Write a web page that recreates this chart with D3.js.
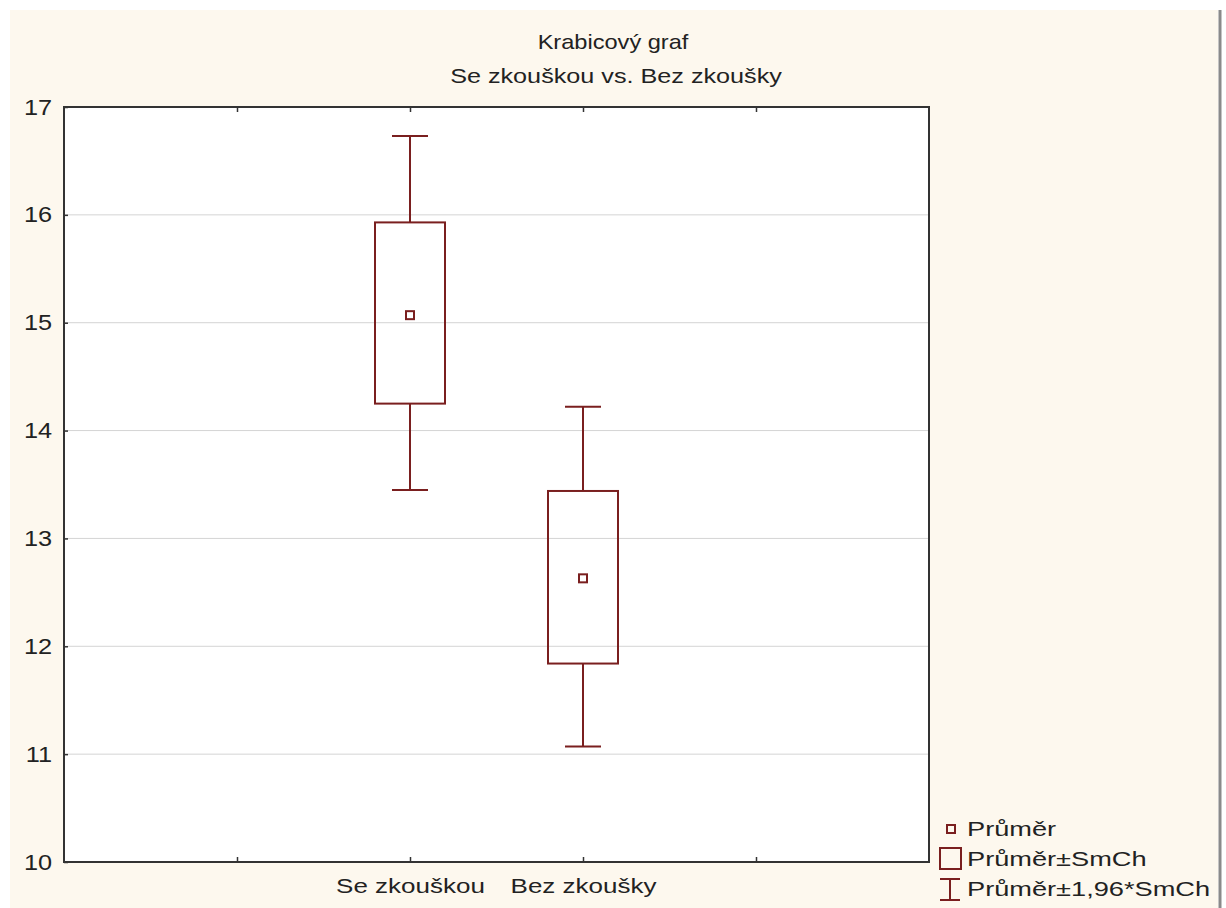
<!doctype html>
<html lang="cs">
<head>
  <meta charset="utf-8">
  <script src="https://d3js.org/d3.v7.min.js"></script>
  <style>
    body { margin: 0; background: #fff; }
    text { font-family: Arial, "Liberation Sans", sans-serif; }
  </style>
</head>
<body>
<script>
  // data
  var categories = ["", "Se zkouškou", "Bez zkoušky", ""];
  var means      = [null, 15.07, 12.63, null];
  var seLow      = [null, 14.25, 11.84, null];
  var seHigh     = [null, 15.93, 13.44, null];
  var ciLow      = [null, 13.45, 11.07, null];
  var ciHigh     = [null, 16.73, 14.22, null];
  var yTicks     = [10, 11, 12, 13, 14, 15, 16, 17];
  var legendLabels = ["Průměr", "Průměr±SmCh", "Průměr±1,96*SmCh"];

  var W = 1226, H = 908;
  var pLeft = 64, pRight = 929, pTop = 107, pBottom = 862;
  var col = "#7a1f1f";
  var sx = 1.3;   // the reference text is drawn wide

  var svg = d3.select("body").append("svg")
      .attr("width", W)
      .attr("height", H);

  // cream figure background
  svg.append("rect")
      .attr("x", 10).attr("y", 10)
      .attr("width", 1208).attr("height", H - 10)
      .attr("fill", "#fdf8ee");
  svg.append("line")
      .attr("x1", 1220).attr("x2", 1220)
      .attr("y1", 10).attr("y2", H)
      .attr("stroke", "#8a8a8a").attr("stroke-width", 3);

  function wideText(x, y, str, anchor, k) {
    return svg.append("g")
        .attr("transform", "translate(" + x + "," + y + ") scale(" + (k || sx) + ",1)")
      .append("text")
        .attr("text-anchor", anchor || "start")
        .style("font-size", "20px").attr("fill", "#222")
        .text(str);
  }

  var x = d3.scaleLinear().domain([0, categories.length + 1]).range([pLeft, pRight]);
  var y = d3.scaleLinear().domain([10, 17]).range([pBottom, pTop]);

  // plot area
  svg.append("rect")
      .attr("x", pLeft).attr("y", pTop)
      .attr("width", pRight - pLeft).attr("height", pBottom - pTop)
      .attr("fill", "#fff");

  // grid
  svg.selectAll(".grid")
      .data(yTicks.slice(1, -1))
    .enter().append("line")
      .attr("x1", pLeft).attr("x2", pRight)
      .attr("y1", function(d) { return y(d); })
      .attr("y2", function(d) { return y(d); })
      .attr("stroke", "#d4d4d4").attr("stroke-width", 1);

  // axes
  var yAxis = svg.append("g")
      .attr("transform", "translate(" + pLeft + ",0)")
      .call(d3.axisLeft(y).tickValues(yTicks).tickFormat(d3.format("d"))
        .tickSize(-4).tickPadding(12));
  var idx = d3.range(1, categories.length + 1);
  var xAxis = svg.append("g")
      .attr("transform", "translate(0," + pBottom + ")")
      .call(d3.axisBottom(x).tickValues(idx)
        .tickFormat(function(d) { return categories[d - 1]; })
        .tickSize(-5).tickPadding(17));
  var xTop = svg.append("g")
      .attr("transform", "translate(0," + pTop + ")")
      .call(d3.axisTop(x).tickValues(idx).tickFormat("").tickSize(-5));

  [yAxis, xAxis, xTop].forEach(function(g) {
    g.select(".domain").remove();
    g.selectAll(".tick line").attr("stroke", "#333").attr("stroke-width", 1.5);
    g.selectAll("text").attr("fill", "#222").style("font-size", "20px")
        .attr("transform", "scale(" + sx + ",1)");
  });
  yAxis.selectAll("text")
      .style("font-size", "22px")
      .attr("transform", "scale(1.15,1)")
      .attr("x", -12 / 1.15);

  // plot frame
  svg.append("rect")
      .attr("x", pLeft).attr("y", pTop)
      .attr("width", pRight - pLeft).attr("height", pBottom - pTop)
      .attr("fill", "none").attr("stroke", "#333").attr("stroke-width", 2);

  // boxes
  var groups = idx.filter(function(i) { return means[i - 1] != null; });
  var boxW = 70, capW = 36, mSize = 8;
  var g = svg.selectAll(".box")
      .data(groups)
    .enter().append("g")
      .attr("fill", "none")
      .attr("stroke", col)
      .attr("stroke-width", 2);

  g.append("line")
      .attr("x1", function(i) { return x(i); })
      .attr("x2", function(i) { return x(i); })
      .attr("y1", function(i) { return y(ciHigh[i - 1]); })
      .attr("y2", function(i) { return y(seHigh[i - 1]); });
  g.append("line")
      .attr("x1", function(i) { return x(i); })
      .attr("x2", function(i) { return x(i); })
      .attr("y1", function(i) { return y(seLow[i - 1]); })
      .attr("y2", function(i) { return y(ciLow[i - 1]); });
  g.append("line")
      .attr("x1", function(i) { return x(i) - capW / 2; })
      .attr("x2", function(i) { return x(i) + capW / 2; })
      .attr("y1", function(i) { return y(ciHigh[i - 1]); })
      .attr("y2", function(i) { return y(ciHigh[i - 1]); });
  g.append("line")
      .attr("x1", function(i) { return x(i) - capW / 2; })
      .attr("x2", function(i) { return x(i) + capW / 2; })
      .attr("y1", function(i) { return y(ciLow[i - 1]); })
      .attr("y2", function(i) { return y(ciLow[i - 1]); });
  g.append("rect")
      .attr("x", function(i) { return x(i) - boxW / 2; })
      .attr("y", function(i) { return y(seHigh[i - 1]); })
      .attr("width", boxW)
      .attr("height", function(i) { return y(seLow[i - 1]) - y(seHigh[i - 1]); });
  g.append("rect")
      .attr("x", function(i) { return x(i) - mSize / 2; })
      .attr("y", function(i) { return y(means[i - 1]) - mSize / 2; })
      .attr("width", mSize).attr("height", mSize);

  // titles
  wideText(613, 49, "Krabicový graf", "middle", 1.18);
  wideText(616, 83, "Se zkouškou vs. Bez zkoušky", "middle", 1.26);

  // legend
  var lg = svg.append("g").attr("stroke", col).attr("stroke-width", 2).attr("fill", "none");
  lg.append("rect").attr("x", 947).attr("y", 825).attr("width", 8).attr("height", 8);
  lg.append("rect").attr("x", 940).attr("y", 848).attr("width", 21).attr("height", 21);
  lg.append("line").attr("x1", 950).attr("x2", 950).attr("y1", 879).attr("y2", 900);
  lg.append("line").attr("x1", 940).attr("x2", 960).attr("y1", 879).attr("y2", 879);
  lg.append("line").attr("x1", 940).attr("x2", 960).attr("y1", 900).attr("y2", 900);

  legendLabels.forEach(function(d, i) {
    wideText(967, 836 + i * 30, d, "start", 1.36);
  });
</script>
</body>
</html>
